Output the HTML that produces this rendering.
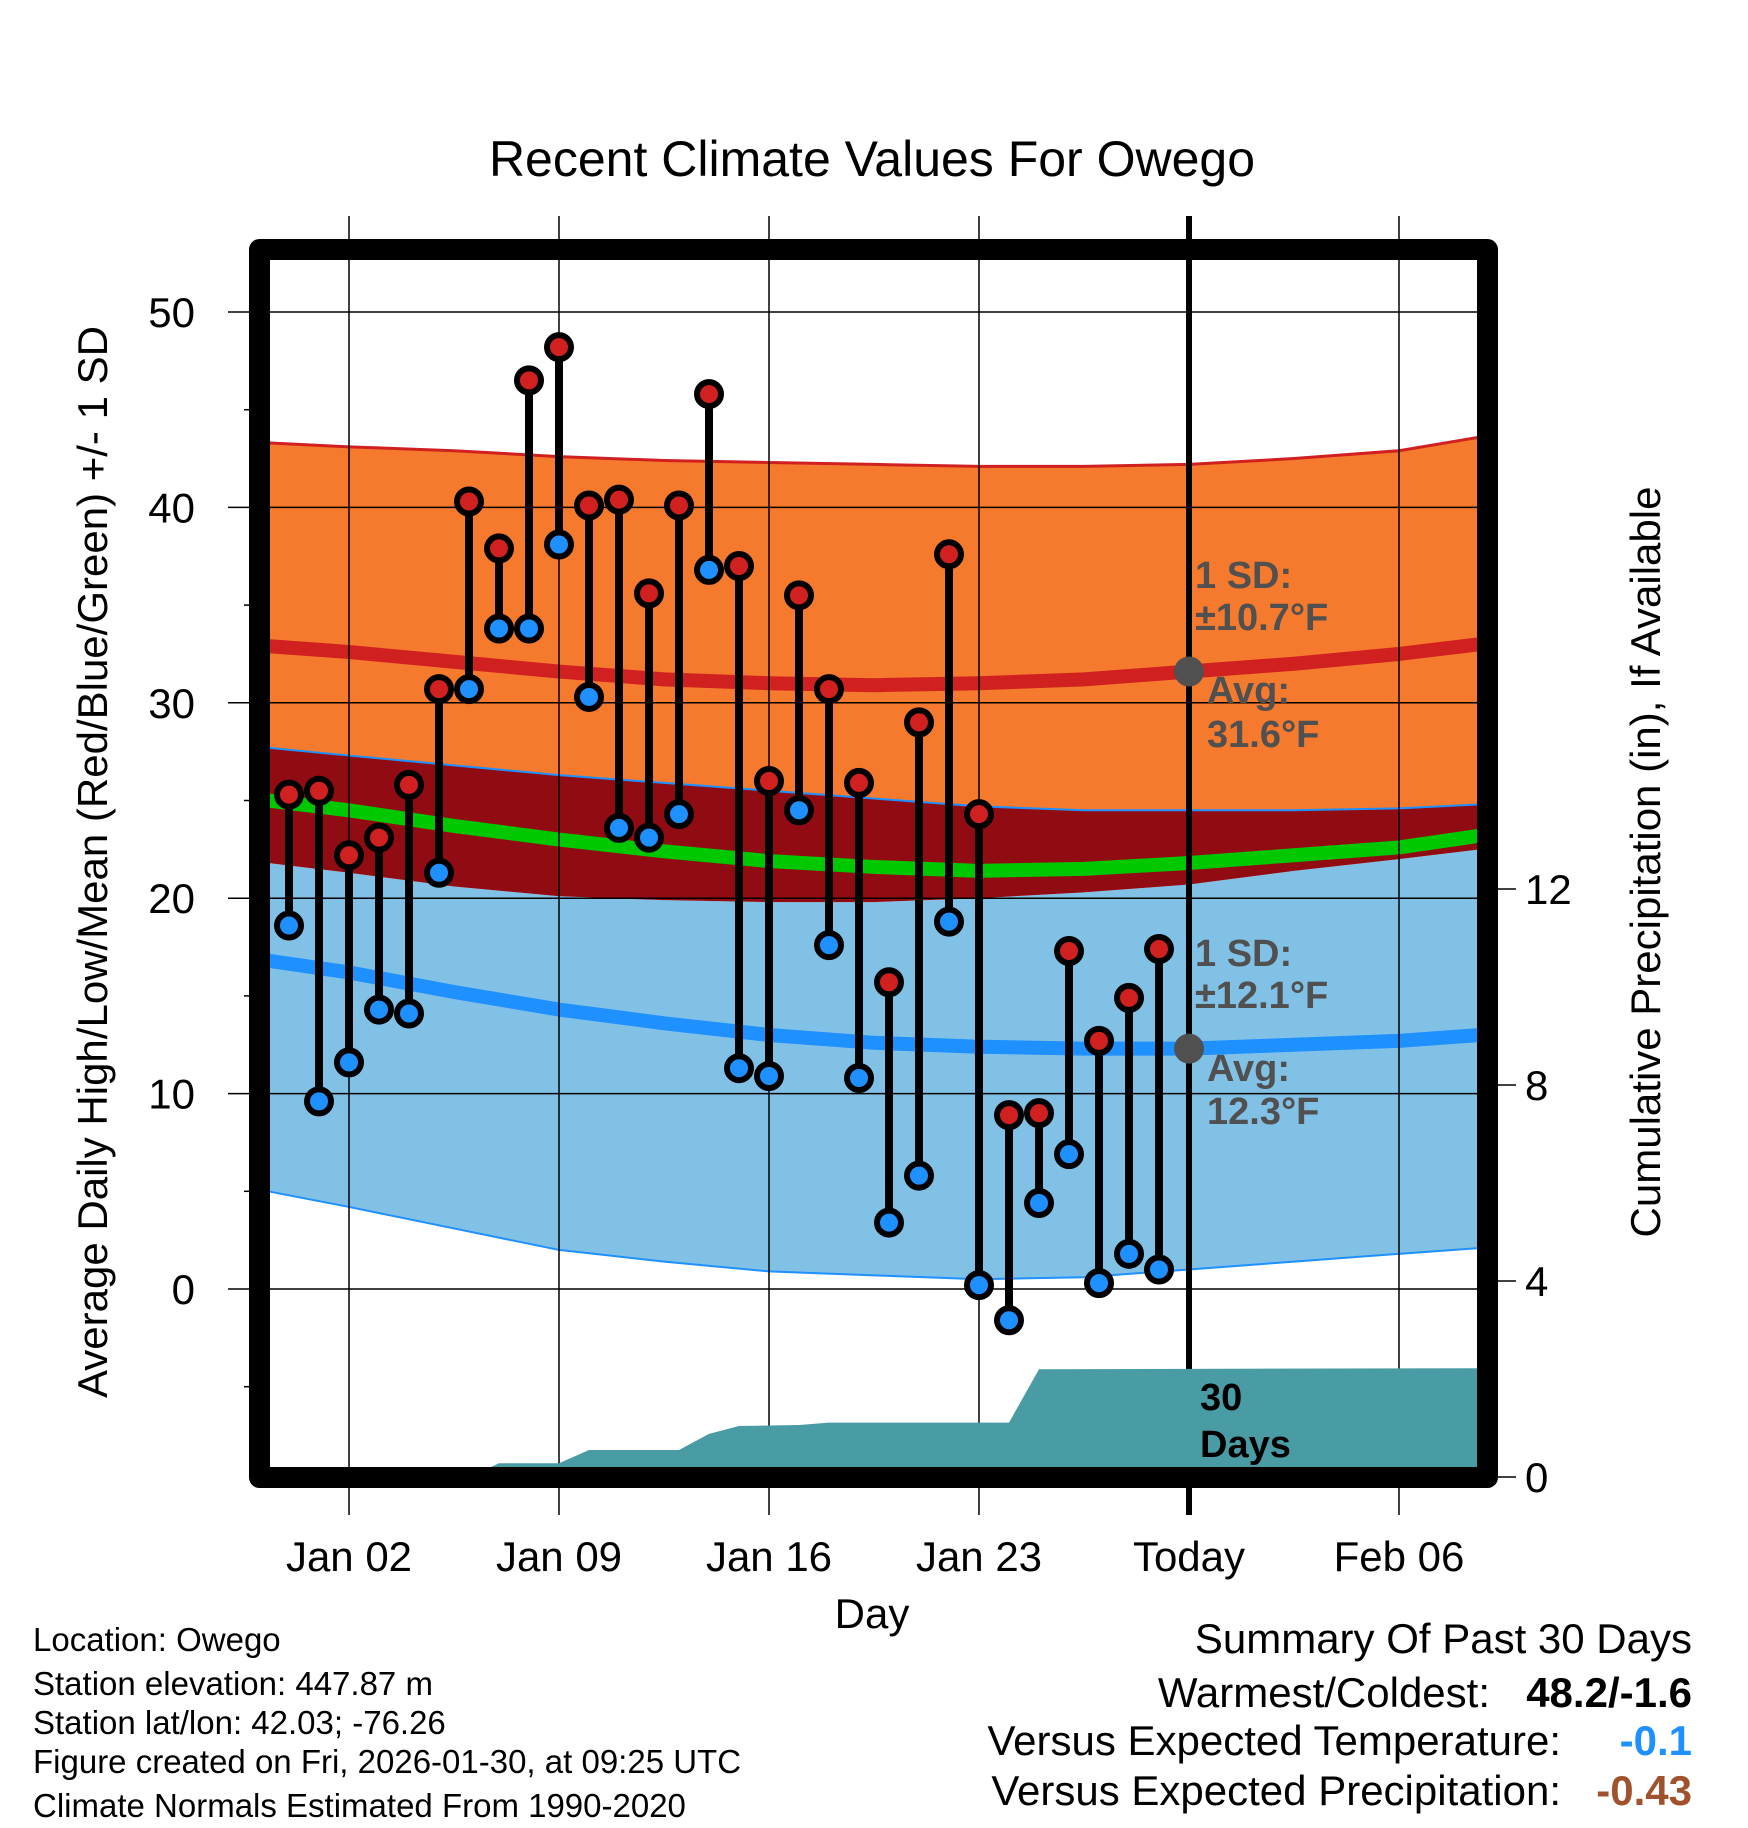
<!DOCTYPE html>
<html><head><meta charset="utf-8">
<style>
body{margin:0;background:#fff;}
svg{display:block;font-family:"Liberation Sans",sans-serif;}
</style></head>
<body>
<svg id="chart" width="1748" height="1828" viewBox="0 0 1748 1828" xmlns="http://www.w3.org/2000/svg">
<text x="872" y="176" font-size="50" text-anchor="middle">Recent Climate Values For Owego</text>
<g id="bands"></g>
<g id="grid"></g>
<g id="precip"></g>
<g id="marks"></g>
<g id="frame"></g>
<g id="labels"></g>
<text transform="translate(107,862) rotate(-90)" font-size="42" text-anchor="middle">Average Daily High/Low/Mean (Red/Blue/Green) +/- 1 SD</text>
<text transform="translate(1660,862) rotate(-90)" font-size="42" text-anchor="middle">Cumulative Precipitation (in), If Available</text>
<text x="872" y="1628" font-size="42" text-anchor="middle">Day</text>
<g font-size="33">
<text x="33" y="1651">Location: Owego</text>
<text x="33" y="1695">Station elevation: 447.87 m</text>
<text x="33" y="1734">Station lat/lon: 42.03; -76.26</text>
<text x="33" y="1773">Figure created on Fri, 2026-01-30, at 09:25 UTC</text>
<text x="33" y="1817">Climate Normals Estimated From 1990-2020</text>
</g>
<g font-size="42" text-anchor="end">
<text x="1692" y="1653">Summary Of Past 30 Days</text>
<text x="1490" y="1707">Warmest/Coldest:</text>
<text x="1692" y="1707" font-weight="bold">48.2/-1.6</text>
<text x="1561" y="1755">Versus Expected Temperature:</text>
<text x="1692" y="1755" font-weight="bold" fill="#1e90ff">-0.1</text>
<text x="1561" y="1805">Versus Expected Precipitation:</text>
<text x="1692" y="1805" font-weight="bold" fill="#a0522d">-0.43</text>
</g>
</svg>
<script>
// day index: 0 = Jan 02
const dayIdx = [-2,-1,0,1,2,3,4,5,6,7,8,9,10,11,12,13,14,15,16,17,18,19,20,21,22,23,24,25,26,27];
const highs = [25.3,25.5,22.2,23.1,25.8,30.7,40.3,37.9,46.5,48.2,40.1,40.4,35.6,40.1,45.8,37.0,26.0,35.5,30.7,25.9,15.7,29.0,37.6,24.3,8.9,9.0,17.3,12.7,14.9,17.4];
const lows = [18.6,9.6,11.6,14.3,14.1,21.3,30.7,33.8,33.8,38.1,30.3,23.6,23.1,24.3,36.8,11.3,10.9,24.5,17.6,10.8,3.4,5.8,18.8,0.2,-1.6,4.4,6.9,0.3,1.8,1.0];
const precipDays = [-2.7,4,5,7,8,11,12,13,15,16,22,23,37.7];
const precipVals = [0,0,0.28,0.28,0.55,0.55,0.88,1.04,1.06,1.11,1.11,2.2,2.22];
const normDays = [-2.7,0,3.5,7,10.5,14,17.5,21,24.5,28,31.5,35,37.7];
const sdHighTop = [43.3,43.1,42.9,42.6,42.4,42.3,42.2,42.1,42.1,42.2,42.5,42.9,43.6];
const highMean = [32.9,32.6,32.1,31.6,31.2,31.0,30.9,31.0,31.2,31.6,32.0,32.5,33.0];
const orangeBottom = [27.7,27.3,26.8,26.3,25.9,25.5,25.1,24.7,24.5,24.5,24.5,24.6,24.8];
const meanLine = [25.0,24.5,23.7,23.0,22.4,21.9,21.6,21.4,21.5,21.8,22.2,22.6,23.2];
const lightBlueTop = [21.8,21.3,20.6,20.1,19.9,19.8,19.8,20.0,20.3,20.7,21.4,22.0,22.5];
const lowMean = [16.8,16.2,15.2,14.3,13.6,13.0,12.6,12.4,12.3,12.3,12.5,12.7,13.0];
const lightBlueBottom = [5.0,4.2,3.1,2.0,1.4,0.9,0.7,0.5,0.6,1.0,1.4,1.8,2.1];
const xTickDays = [0,7,14,21,28,35];
const xTickLabels = ["Jan 02","Jan 09","Jan 16","Jan 23","Today","Feb 06"];
const yTicks = [0,10,20,30,40,50];
const y2Ticks = [0,4,8,12];

const NS="http://www.w3.org/2000/svg";
const L=269,R=1478,T=260,B=1468;
const X=d=>349+d*30;
const Y=v=>1289-v*19.54;
const Y2=v=>1477-v*49;
function mk(tag,attrs,parent){const e=document.createElementNS(NS,tag);for(const k in attrs)e.setAttribute(k,attrs[k]);document.getElementById(parent).appendChild(e);return e;}
function poly(top,bot){let p=[];normDays.forEach((d,i)=>p.push(X(d)+","+Y(top[i])));for(let i=normDays.length-1;i>=0;i--)p.push(X(normDays[i])+","+Y(bot[i]));return p.join(" ");}
function line(arr){return normDays.map((d,i)=>X(d)+","+Y(arr[i])).join(" ");}

let e;
e=mk("clipPath",{id:"pc"},"bands");
e.innerHTML='<rect x="'+L+'" y="'+T+'" width="'+(R-L)+'" height="'+(B-T)+'"/>';
e=mk("polygon",{points:poly(lightBlueTop,lightBlueBottom),fill:"#82c1e6"},"bands");


e=mk("polyline",{points:line(lightBlueBottom),fill:"none",stroke:"#1e90ff",'stroke-width':2},"bands");


e=mk("polygon",{points:poly(sdHighTop,orangeBottom),fill:"#f57a2d"},"bands");


e=mk("polyline",{points:line(sdHighTop),fill:"none",stroke:"#d02020",'stroke-width':3},"bands");


e=mk("polygon",{points:poly(orangeBottom,lightBlueTop),fill:"#900c12"},"bands");


e=mk("polyline",{points:line(orangeBottom),fill:"none",stroke:"#1e90ff",'stroke-width':2},"bands");


e=mk("polyline",{points:line(meanLine),fill:"none",stroke:"#00c800",'stroke-width':14},"bands");


e=mk("polyline",{points:line(highMean),fill:"none",stroke:"#d02020",'stroke-width':14},"bands");


e=mk("polyline",{points:line(lowMean),fill:"none",stroke:"#1e90ff",'stroke-width':14},"bands");



// grid
xTickDays.forEach((d,i)=>{
  e=mk("line",{x1:X(d),x2:X(d),y1:216,y2:1515,stroke:"#000",'stroke-width':d===28?6:1.5},"grid");
  
  
  e=mk("text",{x:X(d),y:1571,'font-size':42,'text-anchor':'middle'},"labels");
  e.textContent=xTickLabels[i];
  
  
});
yTicks.forEach(v=>{
  e=mk("line",{x1:228,x2:R,y1:Y(v),y2:Y(v),stroke:"#000",'stroke-width':1.5},"grid");
  
  
  e=mk("text",{x:195,y:Y(v)+15,'font-size':42,'text-anchor':'end'},"labels");
  e.textContent=v;
  
  
});
[-5,5,15,25,35,45].forEach(v=>{
  e=mk("line",{x1:244,x2:252,y1:Y(v),y2:Y(v),stroke:"#000",'stroke-width':1.5},"grid");
  
  
});
y2Ticks.forEach(v=>{
  e=mk("line",{x1:1496,x2:1516,y1:Y2(v),y2:Y2(v),stroke:"#000",'stroke-width':1.5},"grid");
  
  
  e=mk("text",{x:1525,y:Y2(v)+15,'font-size':42},"labels");
  e.textContent=v;
  
  
});

// precip
let pp=[X(precipDays[0])+","+B];
precipDays.forEach((d,i)=>pp.push(X(d)+","+Y2(precipVals[i])));
pp.push(X(precipDays[precipDays.length-1])+","+B);
e=mk("polygon",{points:pp.join(" "),fill:"#4a9ca4",'clip-path':'url(#pc)'},"precip");



// stems and markers
dayIdx.forEach((d,i)=>{
  e=mk("line",{x1:X(d),x2:X(d),y1:Y(highs[i]),y2:Y(lows[i]),stroke:"#000",'stroke-width':8},"marks");
  
  
});
dayIdx.forEach((d,i)=>{
  e=mk("circle",{cx:X(d),cy:Y(highs[i]),r:12,fill:"#d02020",stroke:"#000",'stroke-width':6},"marks");
  
  
  e=mk("circle",{cx:X(d),cy:Y(lows[i]),r:12,fill:"#1e90ff",stroke:"#000",'stroke-width':6},"marks");
  
  
});

// frame
e=mk("rect",{x:259.5,y:249.5,width:1228,height:1228,fill:"none",stroke:"#000",'stroke-width':21,'stroke-linejoin':'round'},"frame");



// annotations
const ann=[["1 SD:",1195,588],["±10.7°F",1195,630],["Avg:",1207,703],["31.6°F",1207,747],["1 SD:",1195,966],["±12.1°F",1195,1008],["Avg:",1207,1081],["12.3°F",1207,1124]];
ann.forEach(a=>{
  e=mk("text",{x:a[1],y:a[2],'font-size':38,'font-weight':'bold',fill:"#505050"},"labels");
  e.textContent=a[0];
  
  
});
[31.6,12.3].forEach(v=>{
  e=mk("circle",{cx:X(28),cy:Y(v),r:15,fill:"#505050"},"labels");
  
  
});
e=mk("text",{x:1200,y:1410,'font-size':38,'font-weight':'bold'},"labels");
e.textContent="30";


e=mk("text",{x:1200,y:1457,'font-size':38,'font-weight':'bold'},"labels");
e.textContent="Days";


</script>
</body></html>
